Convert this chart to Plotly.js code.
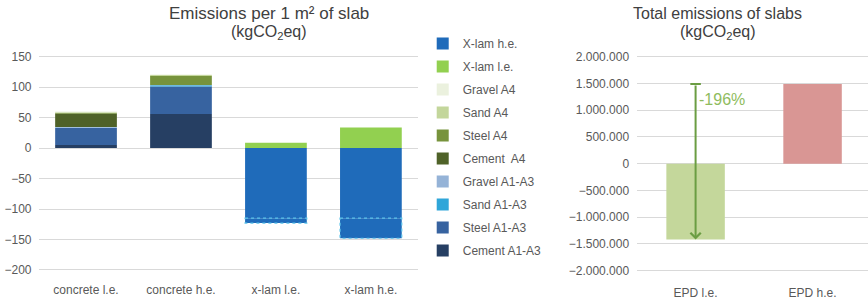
<!DOCTYPE html>
<html>
<head>
<meta charset="utf-8">
<script src="https://cdn.plot.ly/plotly-3.0.1.min.js"></script>
<style>html,body{margin:0;padding:0;background:#fff;}#chart{width:868px;height:299px;}</style>
</head>
<body>
<div id="chart"></div>
<script>
// ---- Data ----
const categories = ['concrete l.e.', 'concrete h.e.', 'x-lam l.e.', 'x-lam h.e.'];
const cementA1A3 = [5, 56, 0, 0];
const steelA1A3  = [28, 45, 0, 0];
const sandA1A3   = [0.5, 2, 0, 0];
const gravelA1A3 = [1, 0.5, 0, 0];
const cementA4   = [22, 0, 0, 0];
const steelA4    = [1, 15, 0, 0];
const sandA4     = [1.5, 1.5, 0, 0];
const gravelA4   = [1, 1, 0, 0];
const xlamLE     = [0, 0, 9, 34];
const xlamHE     = [0, 0, -115, -115];
const xlamHErest = [0, 0, -8, -33];

const epdCategories = ['EPD l.e.', 'EPD h.e.'];
const epdValues = [-1420000, 1490000];
const changeLabel = '-196%';
const changeLabelY = 1200000;

const seriesNames = ['Cement A1-A3', 'Steel A1-A3', 'Sand A1-A3', 'Gravel A1-A3',
  'Cement  A4', 'Steel A4', 'Sand A4', 'Gravel A4', 'X-lam l.e.', 'X-lam h.e.'];
const seriesValues = [cementA1A3, steelA1A3, sandA1A3, gravelA1A3,
  cementA4, steelA4, sandA4, gravelA4, xlamLE, xlamHE];
const seriesColors = ['#263f63', '#3763a0', '#2fa6d9', '#95b3d7',
  '#4f6228', '#77933c', '#c3d69b', '#ebf1de', '#92d050', '#1f6bba'];

const FONT = 'Liberation Sans, Arial, sans-serif';
const BARW = 0.65;

const traces = [];
seriesNames.forEach((name, i) => {
  traces.push({
    type: 'bar', name: name, x: categories, y: seriesValues[i],
    xaxis: 'x', yaxis: 'y', width: BARW, legendgroup: 'g' + i,
    legendrank: 100 - i,
    marker: {color: seriesColors[i], line: {width: 0}},
    hoverinfo: 'x+y+name'
  });
});
// lower part of the X-lam h.e. segment (drawn with dashed outline)
traces.push({
  type: 'bar', name: 'X-lam h.e.', x: categories, y: xlamHErest,
  xaxis: 'x', yaxis: 'y', width: BARW, showlegend: false,
  marker: {color: '#1f6bba', line: {width: 0}}
});
// right chart
traces.push({
  type: 'bar', x: epdCategories, y: epdValues, xaxis: 'x2', yaxis: 'y2',
  width: 0.5, showlegend: false,
  marker: {color: ['#c4d79b', '#d99694'], line: {width: 0}}
});

const shapes = [];
xlamHErest.forEach((v, i) => {
  if (v !== 0) {
    shapes.push({type: 'rect', xref: 'x', yref: 'y',
      x0: i - BARW / 2, x1: i + BARW / 2, y0: xlamHE[i], y1: xlamHE[i] + v,
      line: {color: '#5cc4ea', width: 1.2, dash: 'dot'}, fillcolor: 'rgba(0,0,0,0)'});
  }
});
// cap of the arrow
shapes.push({type: 'line', xref: 'x2', yref: 'y2', x0: -0.045, x1: 0.045,
  y0: epdValues[1], y1: epdValues[1], line: {color: '#6b9d43', width: 2}});

const tickFont = {family: FONT, size: 12, color: '#595959'};
const titleFont = {family: FONT, size: 16, color: '#404040'};

const layout = {
  width: 868, height: 299,
  margin: {l: 0, r: 0, t: 0, b: 0},
  paper_bgcolor: '#ffffff', plot_bgcolor: '#ffffff',
  barmode: 'relative',
  separators: ',.',
  font: {family: FONT, color: '#595959'},
  showlegend: true,
  legend: {x: 0.487, xanchor: 'left', y: 0.903, yanchor: 'top',
    traceorder: 'grouped', tracegroupgap: 4,
    font: {family: FONT, size: 12, color: '#595959'}, bgcolor: 'rgba(0,0,0,0)'},
  xaxis: {domain: [0.0444, 0.482], showgrid: false, zeroline: false, showline: false,
    tickfont: tickFont, ticks: '', ticklabelstandoff: 8, fixedrange: true},
  yaxis: {domain: [0.087, 0.8204], range: [-205, 155], tickvals: [-200, -150, -100, -50, 0, 50, 100, 150],
    showgrid: true, gridcolor: '#d9d9d9', gridwidth: 1, zeroline: false, showline: false,
    tickfont: tickFont, ticks: '', ticklabelstandoff: 6, fixedrange: true},
  xaxis2: {domain: [0.734, 1.0], range: [-0.5, 1.474], showgrid: false, zeroline: false, showline: false,
    tickfont: tickFont, ticks: '', ticklabelstandoff: 8, anchor: 'y2', fixedrange: true},
  yaxis2: {domain: [0.077, 0.828], range: [-2100000, 2100000], dtick: 500000, tick0: 0,
    tickformat: ',d', showgrid: true, gridcolor: '#d9d9d9', gridwidth: 1, zeroline: false,
    showline: false, tickfont: tickFont, ticks: '', ticklabelstandoff: 7, anchor: 'x2', fixedrange: true},
  shapes: shapes,
  annotations: [
    {xref: 'paper', yref: 'paper', x: 0.31, y: 1 - 14 / 299, xanchor: 'center', yanchor: 'middle',
     text: 'Emissions per 1 m² of slab', showarrow: false, font: {family: FONT, size: 17, color: '#404040'}},
    {xref: 'paper', yref: 'paper', x: 0.31, y: 1 - 32 / 299, xanchor: 'center', yanchor: 'middle',
     text: '(kgCO<sub>2</sub>eq)', showarrow: false, font: titleFont},
    {xref: 'paper', yref: 'paper', x: 0.827, y: 1 - 14 / 299, xanchor: 'center', yanchor: 'middle',
     text: 'Total emissions of slabs', showarrow: false, font: titleFont},
    {xref: 'paper', yref: 'paper', x: 0.827, y: 1 - 32 / 299, xanchor: 'center', yanchor: 'middle',
     text: '(kgCO<sub>2</sub>eq)', showarrow: false, font: titleFont},
    {xref: 'x2', yref: 'y2', axref: 'x2', ayref: 'y2',
     x: 0, y: epdValues[0], ax: 0, ay: epdValues[1],
     showarrow: true, arrowhead: 4, arrowsize: 1, arrowwidth: 2, arrowcolor: '#6b9d43', text: ''},
    {xref: 'x2', yref: 'y2', x: 0, y: changeLabelY, xanchor: 'left', yanchor: 'middle', xshift: 1,
     text: changeLabel, showarrow: false, font: {family: FONT, size: 16, color: '#8fbc5e'}}
  ]
};

Plotly.newPlot('chart', traces, layout, {displayModeBar: false, staticPlot: true});
</script>
</body>
</html>
